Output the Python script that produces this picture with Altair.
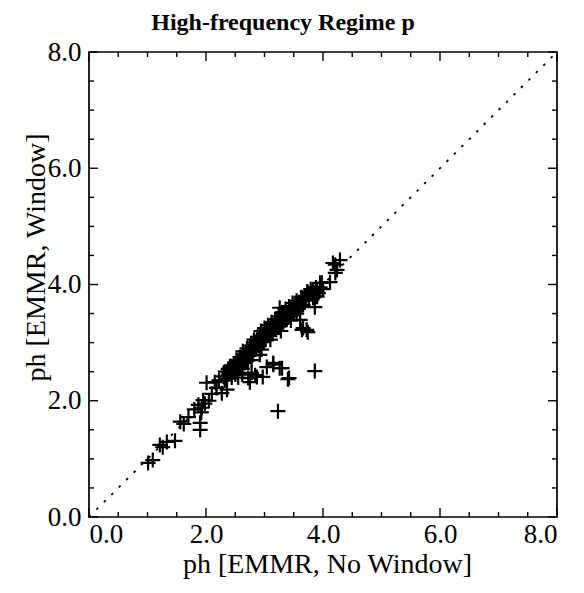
import altair as alt
import pandas as pd

# ---- data ----
title_text = ["High-frequency Regime p"]
x_vals = [
    1.01, 1.09, 1.21, 1.26, 1.33, 1.47, 1.56, 1.62, 1.70, 1.80, 1.87, 1.90, 1.90, 1.95, 1.93, 1.98, 1.92,
    2.01, 2.05, 2.10, 2.15, 2.18, 2.27, 2.36, 2.22,
    2.30, 2.33, 2.35, 2.38, 2.40, 2.42, 2.44, 2.46, 2.48, 2.50, 2.52, 2.54, 2.56, 2.58, 2.60, 2.62,
    2.64, 2.66, 2.68, 2.70, 2.72, 2.74, 2.76, 2.78, 2.80, 2.82, 2.84, 2.86, 2.88, 2.90, 2.92, 2.94,
    2.96, 2.98, 3.00, 3.02, 3.04, 3.06, 3.08, 3.10, 3.12, 3.14, 3.16, 3.18, 3.20, 3.22, 3.24, 3.26,
    3.28, 3.30, 3.32, 3.34, 3.36, 3.38, 3.40, 3.42, 3.44, 3.46, 3.48, 3.50, 3.52, 3.55, 3.58, 3.60,
    3.63, 3.66, 3.70, 3.73, 3.76, 3.80, 3.83, 3.86, 3.90, 3.95,
    2.45, 2.55, 2.65, 2.75, 2.85, 2.95, 3.05, 3.15, 3.25, 3.35, 3.45, 2.50, 2.60, 2.70, 2.80, 2.90,
    3.00, 3.10, 3.20, 3.30, 3.40, 3.50, 3.60, 3.70, 2.38, 2.62, 2.78, 2.95, 3.10, 3.28, 3.45, 3.55,
    2.72, 2.78, 2.87, 2.84, 2.97, 2.75, 3.04, 3.15, 3.15, 3.26, 3.30, 3.40, 3.42, 3.86, 3.23, 2.92,
    3.64, 3.66, 3.72, 3.74, 3.61, 3.86, 3.26, 3.30, 2.62, 2.55,
    3.98, 4.12, 3.95, 4.17, 4.29, 4.24, 4.21, 4.21, 3.74, 3.83, 3.90, 4.00,
    2.32, 2.41, 2.49, 2.57, 2.63, 2.69, 2.77, 2.83, 2.89, 2.93, 2.99, 3.03, 3.09, 3.13, 3.19,
    3.23, 3.29, 3.33, 3.39, 3.43, 3.49, 3.53, 3.57, 3.62, 3.68, 3.75, 3.79, 3.85, 3.88, 3.92,
]
y_vals = [
    0.93, 0.98, 1.24, 1.20, 1.29, 1.31, 1.64, 1.60, 1.72, 1.85, 1.93, 1.62, 1.50, 2.01, 1.88, 1.95, 1.80,
    2.31, 2.00, 2.12, 2.32, 2.22, 2.13, 2.19, 2.35,
    2.42, 2.50, 2.38, 2.55, 2.47, 2.60, 2.40, 2.50, 2.62, 2.55, 2.70, 2.48, 2.66, 2.75, 2.58, 2.72,
    2.80, 2.65, 2.78, 2.90, 2.70, 2.85, 2.95, 2.78, 2.92, 3.05, 2.88, 3.00, 3.10, 2.95, 3.08, 3.20,
    3.02, 3.15, 3.25, 3.05, 3.18, 3.30, 3.12, 3.22, 3.35, 3.15, 3.28, 3.40, 3.22, 3.35, 3.45, 3.28,
    3.42, 3.52, 3.35, 3.48, 3.58, 3.40, 3.52, 3.62, 3.45, 3.58, 3.68, 3.50, 3.62, 3.72, 3.58, 3.70,
    3.78, 3.65, 3.80, 3.88, 3.75, 3.85, 3.91, 3.80, 3.79, 3.95,
    2.55, 2.62, 2.72, 2.82, 2.95, 3.08, 3.12, 3.25, 3.35, 3.45, 3.52, 2.45, 2.68, 2.75, 2.85, 3.02,
    3.10, 3.18, 3.30, 3.40, 3.48, 3.60, 3.65, 3.72, 2.45, 2.55, 2.70, 2.88, 3.05, 3.20, 3.38, 3.50,
    2.39, 2.48, 2.41, 2.44, 2.41, 2.32, 2.58, 2.65, 2.62, 2.56, 2.56, 2.37, 2.39, 2.51, 1.82, 2.79,
    3.22, 3.25, 3.22, 3.18, 3.39, 3.61, 3.60, 3.51, 2.45, 2.40,
    4.03, 4.04, 4.03, 4.37, 4.42, 4.25, 4.20, 4.34, 3.86, 3.77, 3.88, 3.92,
    2.35, 2.58, 2.52, 2.68, 2.85, 2.68, 2.88, 3.00, 2.98, 3.12, 3.02, 3.22, 3.20, 3.28, 3.36,
    3.28, 3.32, 3.52, 3.48, 3.58, 3.55, 3.68, 3.66, 3.62, 3.75, 3.82, 3.92, 3.86, 3.95, 3.85,
]
major_ticks = [0, 2, 4, 6, 8]
minor_ticks = [0.5, 1, 1.5, 2.5, 3, 3.5, 4.5, 5, 5.5, 6.5, 7, 7.5]
diag = [0, 8]

W, H = 468, 465
MAJ, MIN = 9, 5
FONT = "Liberation Serif"

pts = pd.DataFrame({"x": x_vals, "y": y_vals})
xsc = alt.Scale(domain=[0, 8], nice=False, zero=False)
ysc = alt.Scale(domain=[0, 8], nice=False, zero=False)

xaxis = alt.Axis(values=major_ticks, format=".1f", ticks=False, domain=False, grid=False,
                 labelFont=FONT, labelFontSize=27, labelColor="black", labelPadding=4,
                 title="ph [EMMR, No Window]", titleFont=FONT, titleFontSize=28,
                 titleFontWeight="normal", titleColor="black", titleX=238, titleY=55,
                 titleBaseline="alphabetic", titleAlign="center")
yaxis = alt.Axis(values=major_ticks, format=".1f", ticks=False, domain=False, grid=False,
                 labelFont=FONT, labelFontSize=27, labelColor="black", labelPadding=8,
                 title="ph [EMMR, Window]", titleFont=FONT, titleFontSize=28,
                 titleFontWeight="normal", titleColor="black", titleX=-45, titleY=205,
                 titleAngle=270, titleBaseline="alphabetic", titleAlign="center")

scatter = alt.Chart(pts).mark_point(
    shape="M-1,0H1M0,-1V1", size=225, filled=False, stroke="black", strokeWidth=2.2, opacity=1
).encode(
    x=alt.X("x:Q", scale=xsc, axis=xaxis),
    y=alt.Y("y:Q", scale=ysc, axis=yaxis),
)

diag_df = pd.DataFrame({"x": diag, "y": diag})
diag_line = alt.Chart(diag_df).mark_line(
    color="black", strokeWidth=1.8, strokeDash=[2.5, 8]
).encode(x=alt.X("x:Q", scale=xsc), y=alt.Y("y:Q", scale=ysc))

title_mark = alt.Chart(pd.DataFrame({"t": title_text})).mark_text(
    font=FONT, fontSize=24, fontWeight="bold", color="black",
    align="center", baseline="alphabetic"
).encode(text="t:N", x=alt.value(194), y=alt.value(-22))


def tick_layers(vals, length):
    dfx = pd.DataFrame({"x": vals})
    dfy = pd.DataFrame({"y": vals})
    base = dict(color="black", strokeWidth=1.4)
    bottom = alt.Chart(dfx).mark_rule(**base).encode(
        x=alt.X("x:Q", scale=xsc), y=alt.value(H), y2=alt.value(H - length))
    top = alt.Chart(dfx).mark_rule(**base).encode(
        x=alt.X("x:Q", scale=xsc), y=alt.value(0), y2=alt.value(length))
    left = alt.Chart(dfy).mark_rule(**base).encode(
        y=alt.Y("y:Q", scale=ysc), x=alt.value(0), x2=alt.value(length))
    right = alt.Chart(dfy).mark_rule(**base).encode(
        y=alt.Y("y:Q", scale=ysc), x=alt.value(W), x2=alt.value(W - length))
    return [bottom, top, left, right]


layers = [diag_line, scatter, title_mark] + tick_layers(major_ticks, MAJ) + tick_layers(minor_ticks, MIN)

chart = alt.layer(*layers).properties(
    width=W, height=H,
    autosize=alt.AutoSizeParams(type="none"),
    padding={"left": 89, "top": 52, "right": 27, "bottom": 76},
    background="white",
).configure_view(stroke="black", strokeWidth=1.7)

chart.save("out.html", embed_options={"renderer": "svg", "actions": False})
